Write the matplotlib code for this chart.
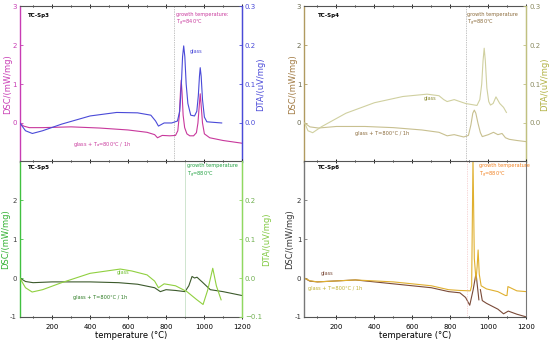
import numpy as np
import matplotlib
matplotlib.use("Agg")
import matplotlib.pyplot as plt

# ---- data (temperature in degC) ----
# TC-Sp3
sp3_dsc_t = [30, 50, 80, 150, 300, 450, 600, 700, 740, 755, 780, 820, 850, 862, 870, 876, 880, 884, 890, 898, 910, 925, 945, 960, 968, 975, 980, 985, 992, 1002, 1030, 1100, 1200]
sp3_dsc = [0.0, -0.08, -0.12, -0.12, -0.1, -0.13, -0.18, -0.24, -0.3, -0.38, -0.32, -0.33, -0.32, -0.2, 0.2, 0.8, 1.1, 0.8, 0.2, -0.12, -0.28, -0.33, -0.33, -0.25, 0.0, 0.45, 0.75, 0.45, 0.0, -0.28, -0.38, -0.45, -0.52]
sp3_dta_t = [30, 60, 96, 150, 250, 400, 540, 650, 720, 745, 760, 790, 830, 860, 872, 880, 887, 893, 899, 906, 915, 930, 950, 962, 970, 976, 980, 985, 992, 1002, 1015, 1040, 1093]
sp3_dta = [0.0, -0.02, -0.027, -0.02, -0.003, 0.018, 0.027, 0.026, 0.02, 0.005, -0.008, 0.0, 0.0, 0.005, 0.03, 0.09, 0.17, 0.198, 0.17, 0.1, 0.05, 0.02, 0.018, 0.03, 0.07, 0.12, 0.142, 0.12, 0.06, 0.015, 0.003, 0.002, 0.0]

# TC-Sp4
sp4_dsc_t = [33, 60, 105, 200, 350, 500, 650, 740, 783, 820, 870, 895, 908, 918, 926, 934, 945, 958, 968, 1000, 1027, 1050, 1072, 1090, 1110, 1150, 1200]
sp4_dsc = [0.0, -0.1, -0.13, -0.09, -0.09, -0.12, -0.18, -0.24, -0.33, -0.3, -0.36, -0.32, -0.05, 0.25, 0.33, 0.25, 0.0, -0.25, -0.35, -0.3, -0.24, -0.3, -0.27, -0.38, -0.42, -0.45, -0.48]
sp4_dta_t = [33, 50, 75, 120, 250, 400, 550, 677, 740, 765, 783, 820, 880, 940, 955, 965, 972, 978, 984, 992, 1002, 1011, 1025, 1040, 1060, 1080, 1095]
sp4_dta = [0.0, -0.02, -0.025, -0.01, 0.025, 0.052, 0.068, 0.074, 0.07, 0.06, 0.055, 0.06, 0.05, 0.045, 0.06, 0.1, 0.16, 0.192, 0.16, 0.09, 0.055, 0.046, 0.05, 0.067, 0.05, 0.04, 0.027]

# TC-Sp5
sp5_dsc_t = [30, 60, 100, 200, 400, 550, 650, 740, 770, 800, 850, 900, 920, 937, 950, 963, 990, 1033, 1100, 1200]
sp5_dsc = [0.0, -0.09, -0.12, -0.1, -0.1, -0.12, -0.16, -0.25, -0.35, -0.3, -0.32, -0.35, -0.2, 0.04, 0.0, 0.02, -0.1, -0.3, -0.35, -0.45]
sp5_dta_t = [30, 60, 95, 150, 250, 400, 559, 620, 700, 740, 760, 790, 850, 910, 960, 995, 1020, 1046, 1065, 1090]
sp5_dta = [0.0, -0.025, -0.036, -0.03, -0.012, 0.012, 0.023, 0.018, 0.008, -0.008, -0.025, -0.015, -0.02, -0.035, -0.055, -0.068, -0.03, 0.025, -0.02, -0.056]

# TC-Sp6 (DSC only)
sp6_glass_t = [30, 60, 100, 300, 500, 700, 791, 850, 880, 902, 920, 935, 950, 955, 958, 968, 990, 1050, 1080, 1105, 1150, 1200]
sp6_glass = [0.0, -0.08, -0.1, -0.05, -0.15, -0.25, -0.35, -0.38, -0.5, -0.7, -0.3, 0.12, -0.56, np.nan, -0.3, -0.58, -0.65, -0.8, -0.92, -0.85, -0.93, -1.0]
sp6_heat_t = [30, 60, 100, 300, 500, 700, 790, 850, 905, 912, 919, 926, 935, 941, 946, 952, 962, 990, 1050, 1090, 1098, 1103, 1150, 1200]
sp6_heat = [0.0, -0.07, -0.1, -0.05, -0.1, -0.2, -0.3, -0.32, -0.33, -0.2, 3.1, 0.5, -0.05, 0.3, 0.72, 0.1, -0.2, -0.28, -0.35, -0.45, -0.45, -0.22, -0.33, -0.35]

tick_fs = 5
lab_fs = 6
note_fs = 3.6


def style_bottom(ax, show_labels):
    ax.set_xlim(30, 1200)
    ax.set_xticks([200, 400, 600, 800, 1000, 1200])
    ax.set_xticks(np.arange(100, 1201, 100), minor=True)
    ax.tick_params(axis="x", which="both", direction="inout", top=True,
                   length=3, width=0.6, labelsize=tick_fs, labelbottom=show_labels)
    ax.tick_params(axis="x", which="minor", length=2)
    for s in ["top", "bottom"]:
        ax.spines[s].set_color("#555555")
        ax.spines[s].set_linewidth(0.8)


def style_y(ax, col, ticks, labels, side="left"):
    ax.set_ylim(-1, 3)
    ax.set_yticks(ticks)
    ax.set_yticklabels(labels)
    ax.tick_params(axis="y", colors=col, labelsize=tick_fs, length=2, width=0.6, direction="in", pad=2)
    ax.spines[side].set_color(col)
    ax.spines[side].set_linewidth(1.0)


def twin_dta(ax, col, lab_col, ticks):
    ax2 = ax.twinx()
    ax2.set_ylim(-0.1, 0.3)
    ax2.set_yticks(ticks)
    ax2.tick_params(axis="y", colors=col, labelsize=tick_fs, length=2, width=0.6, direction="in", pad=2)
    ax2.tick_params(axis="y", labelcolor=lab_col)
    ax2.spines["right"].set_color(col)
    ax2.spines["right"].set_linewidth(1.0)
    for s in ["left", "top", "bottom"]:
        ax2.spines[s].set_visible(False)
    return ax2


fig = plt.figure(figsize=(5.5, 3.43), dpi=100)
L = [0.036, 0.553]
W = 0.404
B = [0.528, 0.076]
H = 0.454

top_dsc_ticks = [0, 1, 2, 3]
bot_dsc_ticks = [-1, 0, 1, 2]

# ---------------- TC-Sp3 ----------------
ax = fig.add_axes([L[0], B[0], W, H])
style_bottom(ax, False)
style_y(ax, "#c83cb4", top_dsc_ticks, ["0", "1", "2", "3"])
ax.spines["right"].set_color("#4a4ad8")
ax.plot(sp3_dsc_t, sp3_dsc, color="#c8389c", lw=0.8)
ax.set_ylabel("DSC/(mW/mg)", color="#c83cb4", fontsize=lab_fs, labelpad=0)
ax.axvline(840, color="#888888", lw=0.5, ls=(0, (1, 1.5)))
ax.text(75, 2.75, "TC-Sp3", fontsize=4, fontweight="bold", va="center")
ax.text(850, 2.85, "growth temperature:\nT$_g$=840°C", color="#c8389c", fontsize=note_fs, va="top")
ax.text(463, -0.6, "glass + T$_a$=800°C / 1h", color="#c8389c", fontsize=note_fs, ha="center")
ax.text(960, 1.8, "glass", color="#4a4ad8", fontsize=note_fs, ha="center")
ax2 = twin_dta(ax, "#4a4ad8", "#4a4ad8", [0.0, 0.1, 0.2, 0.3])
ax2.plot(sp3_dta_t, sp3_dta, color="#4a4ad8", lw=0.8)
ax2.set_ylabel("DTA/(uV/mg)", color="#4a4ad8", fontsize=lab_fs, labelpad=0)

# ---------------- TC-Sp4 ----------------
ax = fig.add_axes([L[1], B[0], W, H])
style_bottom(ax, False)
style_y(ax, "#b09a60", top_dsc_ticks, ["0", "1", "2", "3"])
ax.tick_params(axis="y", labelcolor="#6a6a50")
ax.spines["right"].set_color("#c0c080")
ax.plot(sp4_dsc_t, sp4_dsc, color="#c8c090", lw=0.8)
ax.set_ylabel("DSC/(mW/mg)", color="#a07840", fontsize=lab_fs, labelpad=0)
ax.axvline(880, color="#888888", lw=0.5, ls=(0, (1, 1.5)))
ax.text(105, 2.75, "TC-Sp4", fontsize=4, fontweight="bold", va="center")
ax.text(888, 2.85, "growth temperature\nT$_g$=880°C", color="#8a6a3a", fontsize=note_fs, va="top")
ax.text(442, -0.3, "glass + T=800°C / 1h", color="#8a6a3a", fontsize=note_fs, ha="center")
ax.text(695, 0.58, "glass", color="#8a8a30", fontsize=note_fs, ha="center")
ax2 = twin_dta(ax, "#c0c080", "#8a8a60", [0.0, 0.1, 0.2, 0.3])
ax2.plot(sp4_dta_t, sp4_dta, color="#d0d0a0", lw=0.8)
ax2.set_ylabel("DTA/(uV/mg)", color="#b0b040", fontsize=lab_fs, labelpad=0)

# ---------------- TC-Sp5 ----------------
ax = fig.add_axes([L[0], B[1], W, H])
style_bottom(ax, True)
style_y(ax, "#40c040", bot_dsc_ticks, ["-1", "0", "1", "2"])
ax.tick_params(axis="y", labelcolor="#404040")
ax.spines["right"].set_color("#90d860")
ax.plot(sp5_dsc_t, sp5_dsc, color="#3c5a2c", lw=0.8)
ax.set_ylabel("DSC/(mW/mg)", color="#30b030", fontsize=lab_fs, labelpad=0)
ax.set_xlabel("temperature (°C)", fontsize=lab_fs, labelpad=1)
ax.axvline(900, color="#c8e0c8", lw=0.6)
ax.text(75, 2.85, "TC-Sp5", fontsize=4, fontweight="bold", va="center")
ax.text(912, 2.95, "growth temperature\nT$_g$=880°C", color="#20a040", fontsize=note_fs, va="top")
ax.text(452, -0.55, "glass + T=800°C / 1h", color="#2a7a20", fontsize=note_fs, ha="center")
ax.text(573, 0.1, "glass", color="#70c030", fontsize=note_fs, ha="center")
ax2 = twin_dta(ax, "#90d860", "#70b050", [-0.1, 0.0, 0.1, 0.2])
ax2.plot(sp5_dta_t, sp5_dta, color="#90d040", lw=0.8)
ax2.set_ylabel("DTA/(uV/mg)", color="#80c840", fontsize=lab_fs, labelpad=0)

# ---------------- TC-Sp6 ----------------
ax = fig.add_axes([L[1], B[1], W, H])
style_bottom(ax, True)
style_y(ax, "#777777", bot_dsc_ticks, ["-1", "0", "1", "2"])
ax.tick_params(axis="y", labelcolor="#333333")
ax.spines["right"].set_color("#777777")
ax.plot(sp6_glass_t, sp6_glass, color="#7a4a38", lw=0.8)
ax.plot(sp6_heat_t, sp6_heat, color="#e0b030", lw=0.8)
ax.set_ylabel("DSC/(mW/mg)", color="#333333", fontsize=lab_fs, labelpad=0)
ax.set_xlabel("temperature (°C)", fontsize=lab_fs, labelpad=1)
ax.axvline(888, color="#f0b0b0", lw=0.5, ls=(0, (1, 1.5)))
ax.text(105, 2.85, "TC-Sp6", fontsize=4, fontweight="bold", va="center")
ax.text(950, 2.95, "growth temperature\nT$_g$=880°C", color="#f08020", fontsize=note_fs, va="top")
ax.text(116, 0.08, "glass", color="#7a4a38", fontsize=note_fs)
ax.text(195, -0.3, "glass + T=800°C / 1h", color="#c0b030", fontsize=note_fs, ha="center")

fig.savefig("out.png", dpi=100)
